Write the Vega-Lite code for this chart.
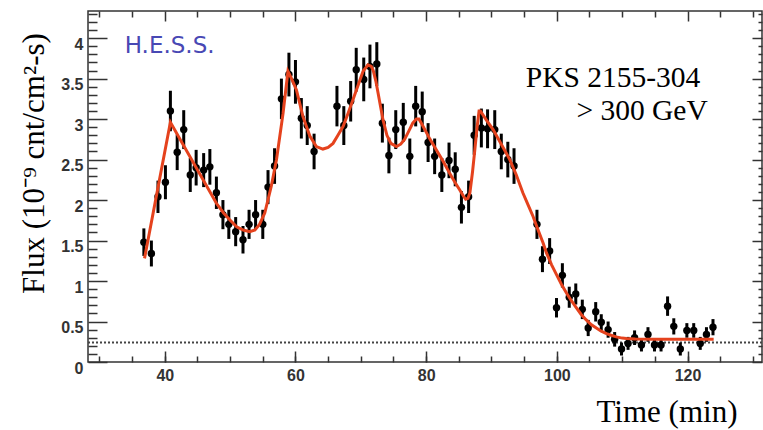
{
  "$schema": "https://vega.github.io/schema/vega-lite/v6.json",
  "width": 674,
  "height": 351,
  "autosize": "none",
  "padding": {"left": 88, "top": 11, "right": 1, "bottom": 68},
  "background": "white",
  "datasets": {
    "pts": [
      {"t": 36.8, "f": 1.48, "lo": 1.31, "hi": 1.65},
      {"t": 37.95, "f": 1.34, "lo": 1.18, "hi": 1.50},
      {"t": 38.96, "f": 2.04, "lo": 1.84, "hi": 2.24},
      {"t": 40.1, "f": 2.22, "lo": 2.01, "hi": 2.43},
      {"t": 40.86, "f": 3.10, "lo": 2.85, "hi": 3.35},
      {"t": 41.9, "f": 2.59, "lo": 2.37, "hi": 2.81},
      {"t": 42.9, "f": 2.87, "lo": 2.63, "hi": 3.11},
      {"t": 43.9, "f": 2.31, "lo": 2.10, "hi": 2.52},
      {"t": 44.8, "f": 2.40, "lo": 2.18, "hi": 2.62},
      {"t": 45.95, "f": 2.37, "lo": 2.16, "hi": 2.58},
      {"t": 46.9, "f": 2.41, "lo": 2.19, "hi": 2.63},
      {"t": 47.9, "f": 2.09, "lo": 1.89, "hi": 2.29},
      {"t": 48.9, "f": 1.82, "lo": 1.64, "hi": 2.00},
      {"t": 49.8, "f": 1.70, "lo": 1.52, "hi": 1.88},
      {"t": 50.85, "f": 1.61, "lo": 1.43, "hi": 1.79},
      {"t": 51.97, "f": 1.51, "lo": 1.34, "hi": 1.68},
      {"t": 52.9, "f": 1.70, "lo": 1.52, "hi": 1.88},
      {"t": 53.9, "f": 1.82, "lo": 1.64, "hi": 2.00},
      {"t": 55.0, "f": 1.70, "lo": 1.52, "hi": 1.88},
      {"t": 55.8, "f": 2.16, "lo": 1.95, "hi": 2.37},
      {"t": 56.8, "f": 2.42, "lo": 2.20, "hi": 2.64},
      {"t": 57.85, "f": 3.25, "lo": 3.00, "hi": 3.50},
      {"t": 59.0, "f": 3.55, "lo": 3.28, "hi": 3.82},
      {"t": 60.0, "f": 3.46, "lo": 3.19, "hi": 3.73},
      {"t": 60.9, "f": 3.01, "lo": 2.76, "hi": 3.26},
      {"t": 61.8, "f": 2.92, "lo": 2.68, "hi": 3.16},
      {"t": 62.85, "f": 2.60, "lo": 2.38, "hi": 2.82},
      {"t": 66.35, "f": 3.16, "lo": 2.91, "hi": 3.41},
      {"t": 67.4, "f": 2.92, "lo": 2.68, "hi": 3.16},
      {"t": 68.45, "f": 3.22, "lo": 2.97, "hi": 3.47},
      {"t": 69.3, "f": 3.61, "lo": 3.34, "hi": 3.88},
      {"t": 70.45, "f": 3.49, "lo": 3.22, "hi": 3.76},
      {"t": 71.4, "f": 3.65, "lo": 3.38, "hi": 3.92},
      {"t": 72.45, "f": 3.68, "lo": 3.41, "hi": 3.95},
      {"t": 73.3, "f": 2.95, "lo": 2.71, "hi": 3.19},
      {"t": 74.3, "f": 2.55, "lo": 2.33, "hi": 2.77},
      {"t": 75.35, "f": 2.87, "lo": 2.63, "hi": 3.11},
      {"t": 76.5, "f": 2.96, "lo": 2.72, "hi": 3.20},
      {"t": 77.5, "f": 2.54, "lo": 2.32, "hi": 2.76},
      {"t": 78.4, "f": 3.16, "lo": 2.91, "hi": 3.41},
      {"t": 79.4, "f": 3.09, "lo": 2.84, "hi": 3.34},
      {"t": 80.3, "f": 2.71, "lo": 2.47, "hi": 2.95},
      {"t": 81.3, "f": 2.54, "lo": 2.32, "hi": 2.76},
      {"t": 82.4, "f": 2.31, "lo": 2.10, "hi": 2.52},
      {"t": 83.5, "f": 2.49, "lo": 2.27, "hi": 2.71},
      {"t": 84.45, "f": 2.38, "lo": 2.17, "hi": 2.59},
      {"t": 85.4, "f": 1.91, "lo": 1.71, "hi": 2.11},
      {"t": 86.5, "f": 2.04, "lo": 1.84, "hi": 2.24},
      {"t": 87.35, "f": 2.80, "lo": 2.56, "hi": 3.04},
      {"t": 88.45, "f": 2.89, "lo": 2.65, "hi": 3.13},
      {"t": 89.4, "f": 2.88, "lo": 2.64, "hi": 3.12},
      {"t": 90.5, "f": 2.87, "lo": 2.63, "hi": 3.11},
      {"t": 91.5, "f": 2.60, "lo": 2.38, "hi": 2.82},
      {"t": 92.5, "f": 2.50, "lo": 2.28, "hi": 2.72},
      {"t": 93.45, "f": 2.42, "lo": 2.20, "hi": 2.64},
      {"t": 96.96, "f": 1.70, "lo": 1.52, "hi": 1.88},
      {"t": 97.8, "f": 1.27, "lo": 1.11, "hi": 1.43},
      {"t": 98.9, "f": 1.37, "lo": 1.21, "hi": 1.53},
      {"t": 99.95, "f": 0.67, "lo": 0.55, "hi": 0.79},
      {"t": 100.85, "f": 1.07, "lo": 0.92, "hi": 1.22},
      {"t": 101.9, "f": 0.80, "lo": 0.67, "hi": 0.93},
      {"t": 102.9, "f": 0.84, "lo": 0.71, "hi": 0.97},
      {"t": 103.9, "f": 0.65, "lo": 0.53, "hi": 0.77},
      {"t": 104.8, "f": 0.42, "lo": 0.32, "hi": 0.52},
      {"t": 105.95, "f": 0.62, "lo": 0.50, "hi": 0.74},
      {"t": 106.8, "f": 0.49, "lo": 0.39, "hi": 0.59},
      {"t": 107.85, "f": 0.40, "lo": 0.30, "hi": 0.50},
      {"t": 108.85, "f": 0.28, "lo": 0.19, "hi": 0.37},
      {"t": 109.9, "f": 0.16, "lo": 0.08, "hi": 0.24},
      {"t": 110.9, "f": 0.23, "lo": 0.15, "hi": 0.31},
      {"t": 111.9, "f": 0.30, "lo": 0.21, "hi": 0.39},
      {"t": 112.95, "f": 0.21, "lo": 0.13, "hi": 0.29},
      {"t": 113.95, "f": 0.34, "lo": 0.25, "hi": 0.43},
      {"t": 114.95, "f": 0.21, "lo": 0.13, "hi": 0.29},
      {"t": 115.95, "f": 0.21, "lo": 0.13, "hi": 0.29},
      {"t": 116.95, "f": 0.69, "lo": 0.57, "hi": 0.81},
      {"t": 117.9, "f": 0.44, "lo": 0.34, "hi": 0.54},
      {"t": 118.9, "f": 0.16, "lo": 0.08, "hi": 0.24},
      {"t": 119.9, "f": 0.39, "lo": 0.30, "hi": 0.48},
      {"t": 120.95, "f": 0.39, "lo": 0.30, "hi": 0.48},
      {"t": 121.95, "f": 0.23, "lo": 0.15, "hi": 0.31},
      {"t": 122.9, "f": 0.34, "lo": 0.25, "hi": 0.43},
      {"t": 123.9, "f": 0.43, "lo": 0.33, "hi": 0.53}
    ],
    "fit": [
      {"t": 36.9, "f": 1.28}, {"t": 40.86, "f": 2.96}, {"t": 47.9, "f": 1.96},
      {"t": 49.0, "f": 1.84}, {"t": 49.9, "f": 1.76}, {"t": 51.0, "f": 1.67},
      {"t": 52.0, "f": 1.63}, {"t": 53.0, "f": 1.61}, {"t": 53.8, "f": 1.63},
      {"t": 54.5, "f": 1.70}, {"t": 55.3, "f": 1.84}, {"t": 56.3, "f": 2.17},
      {"t": 57.1, "f": 2.50}, {"t": 58.1, "f": 3.07}, {"t": 58.85, "f": 3.59},
      {"t": 59.4, "f": 3.50}, {"t": 60.15, "f": 3.36}, {"t": 61.15, "f": 3.03},
      {"t": 62.2, "f": 2.79}, {"t": 63.2, "f": 2.66}, {"t": 64.2, "f": 2.63},
      {"t": 65.0, "f": 2.65}, {"t": 65.75, "f": 2.70}, {"t": 66.5, "f": 2.80},
      {"t": 67.3, "f": 2.91}, {"t": 68.0, "f": 3.06}, {"t": 68.8, "f": 3.24},
      {"t": 69.6, "f": 3.42}, {"t": 70.35, "f": 3.59}, {"t": 71.1, "f": 3.67},
      {"t": 71.6, "f": 3.65}, {"t": 71.9, "f": 3.60}, {"t": 72.3, "f": 3.47},
      {"t": 72.65, "f": 3.32}, {"t": 73.4, "f": 2.99}, {"t": 74.0, "f": 2.80},
      {"t": 74.6, "f": 2.70}, {"t": 75.45, "f": 2.66}, {"t": 76.1, "f": 2.69},
      {"t": 76.7, "f": 2.75}, {"t": 77.4, "f": 2.86}, {"t": 77.95, "f": 2.95},
      {"t": 78.5, "f": 3.00}, {"t": 78.9, "f": 3.00}, {"t": 79.4, "f": 2.93},
      {"t": 79.8, "f": 2.87}, {"t": 80.6, "f": 2.75}, {"t": 81.55, "f": 2.62},
      {"t": 82.6, "f": 2.48}, {"t": 83.6, "f": 2.33}, {"t": 84.4, "f": 2.22},
      {"t": 85.1, "f": 2.13}, {"t": 85.7, "f": 2.05}, {"t": 86.05, "f": 2.01},
      {"t": 86.4, "f": 2.02}, {"t": 86.7, "f": 2.09}, {"t": 87.1, "f": 2.35},
      {"t": 87.45, "f": 2.62}, {"t": 87.8, "f": 2.90}, {"t": 88.1, "f": 3.10},
      {"t": 88.3, "f": 3.10}, {"t": 89.2, "f": 2.99}, {"t": 90.25, "f": 2.87},
      {"t": 91.5, "f": 2.69}, {"t": 92.8, "f": 2.50}, {"t": 93.8, "f": 2.31},
      {"t": 94.8, "f": 2.09}, {"t": 95.6, "f": 1.94}, {"t": 96.35, "f": 1.80},
      {"t": 96.9, "f": 1.68}, {"t": 97.9, "f": 1.47}, {"t": 98.4, "f": 1.35},
      {"t": 99.2, "f": 1.20}, {"t": 99.95, "f": 1.08}, {"t": 100.7, "f": 0.96},
      {"t": 101.5, "f": 0.85}, {"t": 102.2, "f": 0.76}, {"t": 103.0, "f": 0.67},
      {"t": 103.7, "f": 0.59}, {"t": 104.5, "f": 0.52}, {"t": 105.3, "f": 0.46},
      {"t": 106.05, "f": 0.42}, {"t": 106.8, "f": 0.38}, {"t": 107.6, "f": 0.35},
      {"t": 108.3, "f": 0.33}, {"t": 109.1, "f": 0.31}, {"t": 110.0, "f": 0.295},
      {"t": 110.65, "f": 0.29}, {"t": 112.0, "f": 0.285}, {"t": 115.0, "f": 0.28},
      {"t": 120.0, "f": 0.28}, {"t": 124.0, "f": 0.28}
    ]
  },
  "layer": [
    {
      "data": {"values": [{}]},
      "mark": {"type": "rule", "color": "#444", "strokeWidth": 2, "strokeDash": [2, 2]},
      "encoding": {
        "y": {"datum": 0.242, "type": "quantitative", "scale": {"domain": [0, 4.335], "nice": false, "zero": false}, "axis": null}
      }
    },
    {
      "data": {"name": "pts"},
      "mark": {"type": "rule", "color": "#000", "strokeWidth": 3},
      "encoding": {
        "x": {"field": "t", "type": "quantitative", "scale": {"domain": [28.25, 131.4], "nice": false, "zero": false},
          "axis": {"orient": "bottom", "values": [40, 60, 80, 100, 120], "tickSize": -11, "labelPadding": 16,
            "labelFlush": false, "labelOverlap": false,
            "title": "Time (min)", "titleX": 508, "titleY": 59, "titleAlign": "left", "titleBaseline": "alphabetic"}},
        "y": {"field": "lo", "type": "quantitative", "scale": {"domain": [0, 4.335], "nice": false, "zero": false},
          "axis": {"orient": "left", "values": [0, 0.5, 1, 1.5, 2, 2.5, 3, 3.5, 4], "tickSize": -19, "labelPadding": 24,
            "labelOffset": 6, "labelFlush": false, "labelOverlap": false, "labelExpr": "'' + datum.value",
            "title": "Flux (10⁻⁹ cnt/cm²-s)", "titleX": -45, "titleY": 152, "titleAngle": 270,
            "titleAlign": "center", "titleBaseline": "alphabetic"}},
        "y2": {"field": "hi"}
      }
    },
    {
      "data": {"name": "pts"},
      "mark": {"type": "circle", "color": "#000", "opacity": 1, "size": 55},
      "encoding": {
        "x": {"field": "t", "type": "quantitative", "scale": {"domain": [28.25, 131.4], "nice": false, "zero": false},
          "axis": {"orient": "bottom", "values": [30, 35, 40, 45, 50, 55, 60, 65, 70, 75, 80, 85, 90, 95, 100, 105, 110, 115, 120, 125, 130],
            "tickSize": -6, "labels": false, "title": null}},
        "y": {"field": "f", "type": "quantitative", "scale": {"domain": [0, 4.335], "nice": false, "zero": false},
          "axis": {"orient": "left", "values": [0.1, 0.2, 0.3, 0.4, 0.6, 0.7, 0.8, 0.9, 1.1, 1.2, 1.3, 1.4, 1.6, 1.7, 1.8, 1.9, 2.1, 2.2, 2.3, 2.4, 2.6, 2.7, 2.8, 2.9, 3.1, 3.2, 3.3, 3.4, 3.6, 3.7, 3.8, 3.9, 4.1, 4.2, 4.3],
            "tickSize": -9, "labels": false, "title": null}}
      }
    },
    {
      "data": {"name": "fit"},
      "mark": {"type": "line", "color": "#e5421d", "strokeWidth": 3},
      "encoding": {
        "x": {"field": "t", "type": "quantitative", "scale": {"domain": [28.25, 131.4], "nice": false, "zero": false},
          "axis": {"orient": "top", "values": [40, 60, 80, 100, 120], "tickSize": -10, "labels": false, "title": null}},
        "y": {"field": "f", "type": "quantitative", "scale": {"domain": [0, 4.335], "nice": false, "zero": false},
          "axis": {"orient": "right", "values": [0, 0.5, 1, 1.5, 2, 2.5, 3, 3.5, 4], "tickSize": -10, "labels": false, "title": null}}
      }
    },
    {
      "data": {"values": [{}]},
      "mark": {"type": "text", "text": "H.E.S.S.", "font": "DejaVu Sans", "fontSize": 23, "color": "#4848b4", "align": "left", "baseline": "alphabetic"},
      "encoding": {
        "x": {"datum": 33.87, "type": "quantitative", "scale": {"domain": [28.25, 131.4], "nice": false, "zero": false},
          "axis": {"orient": "top", "values": [30, 35, 45, 50, 55, 65, 70, 75, 85, 90, 95, 105, 110, 115, 125, 130], "tickSize": -6, "labels": false, "title": null}},
        "y": {"datum": 3.815, "type": "quantitative", "scale": {"domain": [0, 4.335], "nice": false, "zero": false},
          "axis": {"orient": "right", "values": [0.1, 0.2, 0.3, 0.4, 0.6, 0.7, 0.8, 0.9, 1.1, 1.2, 1.3, 1.4, 1.6, 1.7, 1.8, 1.9, 2.1, 2.2, 2.3, 2.4, 2.6, 2.7, 2.8, 2.9, 3.1, 3.2, 3.3, 3.4, 3.6, 3.7, 3.8, 3.9, 4.1, 4.2, 4.3],
            "tickSize": -4, "labels": false, "title": null}}
      }
    },
    {
      "data": {"values": [{}]},
      "mark": {"type": "text", "text": "PKS 2155-304", "font": "Liberation Serif", "fontSize": 29.5, "color": "#000", "align": "left", "baseline": "alphabetic"},
      "encoding": {
        "x": {"datum": 95.24, "type": "quantitative", "axis": null},
        "y": {"datum": 3.402, "type": "quantitative", "axis": null}
      }
    },
    {
      "data": {"values": [{}]},
      "mark": {"type": "text", "text": "> 300 GeV", "font": "Liberation Serif", "fontSize": 29.5, "color": "#000", "align": "left", "baseline": "alphabetic"},
      "encoding": {
        "x": {"datum": 103.0, "type": "quantitative", "axis": null},
        "y": {"datum": 2.991, "type": "quantitative", "axis": null}
      }
    }
  ],
  "resolve": {"axis": {"x": "independent", "y": "independent"}},
  "config": {
    "view": {"stroke": "#333", "strokeWidth": 1.5},
    "axis": {
      "domain": false, "grid": false, "tickColor": "#333", "tickWidth": 1.5,
      "labelFont": "Liberation Sans", "labelFontWeight": "bold", "labelFontSize": 16, "labelColor": "#333",
      "titleFont": "Liberation Serif", "titleFontSize": 31, "titleFontWeight": "normal", "titleColor": "#000"
    }
  }
}
